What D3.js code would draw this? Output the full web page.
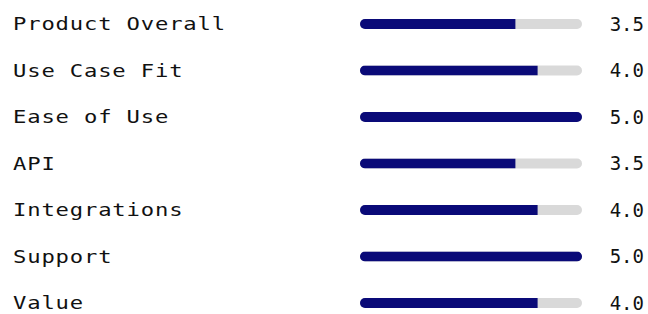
<!DOCTYPE html>
<html>
<head>
<meta charset="utf-8">
<script src="https://cdn.jsdelivr.net/npm/d3@7"></script>
<style>
  body { margin: 0; background: #fff; }
  text { font-family: "DejaVu Sans Mono", monospace; fill: #111; }
</style>
</head>
<body>
<div id="chart"></div>
<script>
var categories = ["Product Overall", "Use Case Fit", "Ease of Use", "API", "Integrations", "Support", "Value"];
var scores = [3.5, 4.0, 5.0, 3.5, 4.0, 5.0, 4.0];
var maxScore = 5;

var width = 648, height = 314;

var svg = d3.select("#chart").append("svg")
    .attr("width", width)
    .attr("height", height);

// rows and bar scale
var y = d3.scalePoint().domain(categories).range([24, 303]);
var x = d3.scaleLinear().domain([0, maxScore]).range([360, 582]);
var barH = 10;
var stretch = 1.2; // labels are drawn a bit wider than DejaVu's glyphs

var data = categories.map(function (c, i) { return { name: c, value: scores[i] }; });

var defs = svg.append("defs");

var row = svg.selectAll(".row")
    .data(data)
    .enter().append("g")
    .attr("class", "row");

// clip each fill to the rounded track
defs.selectAll("clipPath")
    .data(data)
    .enter().append("clipPath")
    .attr("id", function (d, i) { return "clip" + i; })
    .append("rect")
    .attr("x", x(0))
    .attr("y", function (d) { return y(d.name) - barH / 2; })
    .attr("width", x(maxScore) - x(0))
    .attr("height", barH)
    .attr("rx", barH / 2);

// track
row.append("rect")
    .attr("x", x(0))
    .attr("y", function (d) { return y(d.name) - barH / 2; })
    .attr("width", x(maxScore) - x(0))
    .attr("height", barH)
    .attr("rx", barH / 2)
    .style("fill", "#d9d9d9");

// value fill
row.append("rect")
    .attr("clip-path", function (d, i) { return "url(#clip" + i + ")"; })
    .attr("x", x(0))
    .attr("y", function (d) { return y(d.name) - barH / 2; })
    .attr("width", function (d) { return x(d.value) - x(0); })
    .attr("height", barH)
    .style("fill", "#0a0a78");

// labels
row.append("text")
    .attr("transform", "scale(" + stretch + ",1)")
    .attr("x", 13 / stretch)
    .attr("y", function (d) { return y(d.name); })
    .attr("dy", "0.35em")
    .style("font-size", "18.5px")
    .style("letter-spacing", "0.7px")
    .text(function (d) { return d.name; });

// score text
row.append("text")
    .attr("x", 644)
    .attr("y", function (d) { return y(d.name); })
    .attr("dy", "0.35em")
    .attr("text-anchor", "end")
    .style("font-size", "19px")
    .text(function (d) { return d3.format(".1f")(d.value); });
</script>
</body>
</html>
